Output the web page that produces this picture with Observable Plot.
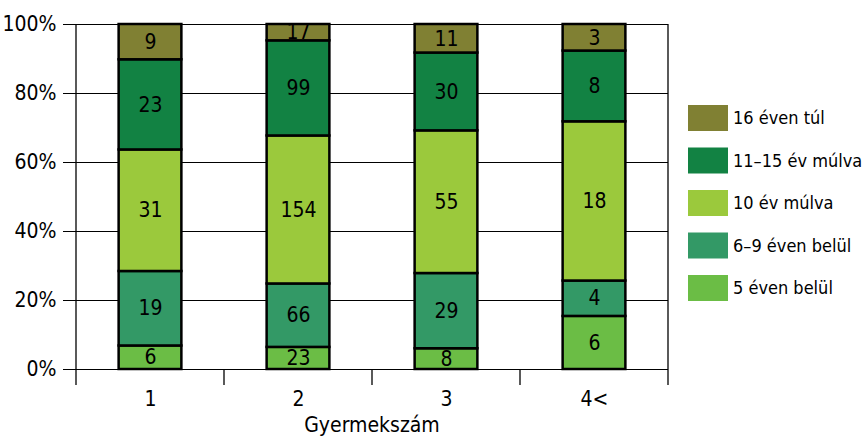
<!DOCTYPE html>
<html><head><meta charset="utf-8">
<script src="https://cdn.jsdelivr.net/npm/d3@7"></script>
<script src="https://cdn.jsdelivr.net/npm/@observablehq/plot@0.6"></script>
<style>body{margin:0;background:#fff}</style>
</head><body><div id="chart"></div>
<script>
const categories = ["1", "2", "3", "4<"];
const seriesNames = ["5 éven belül", "6–9 éven belül", "10 év múlva", "11–15 év múlva", "16 éven túl"];
const v5 = [6, 23, 8, 6];
const v69 = [19, 66, 29, 4];
const v10 = [31, 154, 55, 18];
const v1115 = [23, 99, 30, 8];
const v16 = [9, 17, 11, 3];
const seriesColors = ["#6bbd45", "#339966", "#9bc93c", "#128243", "#808033"];
const yTicks = [0, 0.2, 0.4, 0.6, 0.8, 1];
const xTitle = "Gyermekszám";

const values = [v5, v69, v10, v1115, v16];
const data = [];
seriesNames.forEach((s, si) => categories.forEach((c, ci) => data.push({cat: c, series: s, value: values[si][ci]})));

const W = 868, H = 439, mL = 75, mR = 200, mT = 24, mB = 70;
const FONT = "'DejaVu Sans Condensed', 'DejaVu Sans', sans-serif";
const FS = 21;
const bandW = (W - mL - mR) / categories.length;
const barW = 63;
const inset = (bandW - barW) / 2;

const plot = Plot.plot({
  width: W, height: H,
  marginLeft: mL, marginRight: mR, marginTop: mT, marginBottom: mB,
  style: {fontFamily: FONT, fontStretch: "condensed", fontSize: FS + "px", color: "#000", background: "#fff"},
  x: {domain: categories, padding: 0, label: null},
  y: {domain: [0, 1], label: null},
  color: {domain: seriesNames, range: seriesColors},
  marks: [
    Plot.ruleY(yTicks, {stroke: "#000", strokeWidth: 1.2}),
    Plot.barY(data, Plot.stackY({
      x: "cat", y: "value", z: "series", fill: "series", order: seriesNames, offset: "normalize",
      stroke: "#000", strokeWidth: 2.5, insetLeft: inset, insetRight: inset
    })),
    Plot.text(data, Plot.stackY({
      x: "cat", y: "value", z: "series", order: seriesNames, offset: "normalize",
      text: "value", fill: "#000", fontSize: FS
    })),
    Plot.axisY({ticks: yTicks, tickFormat: d => Math.round(d * 100) + "%", tickSize: 12, tickPadding: 7, fontSize: FS, label: null}),
    Plot.axisX({tickSize: 0, tickPadding: 22, fontSize: FS, label: null})
  ]
});

const svg = d3.select(plot);
const xs = plot.scale("x");
const ys = plot.scale("y");
const yTop = ys.apply(1), yBot = ys.apply(0);
const tickLen = 16;
const g = svg.append("g").attr("stroke", "#000").attr("stroke-width", 1.3);
const edges = categories.map(c => xs.apply(c)).concat([xs.apply(categories[categories.length - 1]) + xs.bandwidth]);
edges.forEach((x, i) => {
  const full = i === 0 || i === edges.length - 1;
  g.append("line").attr("x1", x).attr("x2", x)
    .attr("y1", full ? yTop : yBot).attr("y2", yBot + tickLen);
});

svg.append("text")
  .attr("x", (edges[0] + edges[edges.length - 1]) / 2)
  .attr("y", 432)
  .attr("text-anchor", "middle")
  .attr("font-size", FS).attr("fill", "#000")
  .text(xTitle);

const cs = plot.scale("color");
const leg = svg.append("g").attr("font-size", 18).attr("text-anchor", "start");
seriesNames.slice().reverse().forEach((s, k) => {
  const y0 = 105 + k * 42.5;
  leg.append("rect").attr("x", 688).attr("y", y0).attr("width", 40).attr("height", 26).attr("fill", cs.apply(s));
  leg.append("text").attr("x", 733).attr("y", y0 + 13).attr("dy", "0.35em").attr("fill", "#000").text(s);
});

document.getElementById("chart").appendChild(plot);
</script>
</body></html>
